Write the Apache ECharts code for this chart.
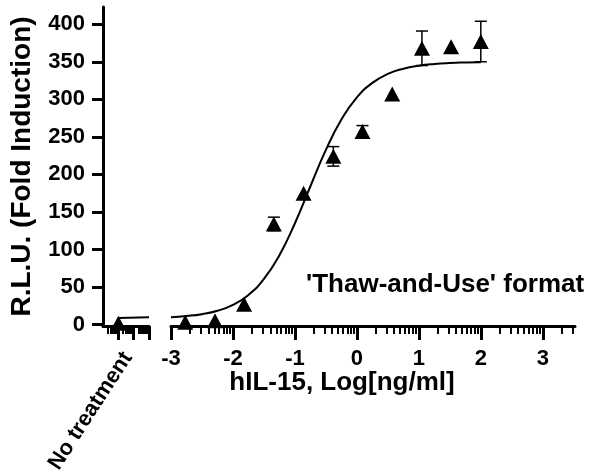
<!DOCTYPE html>
<html><head><meta charset="utf-8">
<script src="https://cdn.jsdelivr.net/npm/echarts@6/dist/echarts.min.js"></script>
<style>html,body{margin:0;padding:0;background:#fff}#c{width:595px;height:472px}</style>
</head><body><div id="c"></div>
<script>
// ---- data ----
const logConc = [2.0, 1.52, 1.05, 0.57, 0.09, -0.38, -0.86, -1.34, -1.82, -2.29, -2.77];
const meanRLU = [377, 370, 368, 307, 257, 224, 175, 134, 27, 5, 3];
const sdRLU   = [27, 0, 23, 0, 8, 13, 0, 9, 0, 0, 0];

const noTreatX = [1];
const noTreatMean = [1.5];
const noTreatSd = [0];
const noTreatLabel = ['No treatment'];

// fitted curve
const curveX = [-3, -2.75, -2.5, -2.25, -2, -1.75, -1.5, -1.25, -1, -0.75, -0.5, -0.25, 0, 0.25, 0.5, 0.75, 1, 1.25, 1.5, 1.75, 2];
const curveY = [9.8, 11.3, 13.8, 18.3, 26.2, 39.4, 60.7, 92.4, 134.9, 184.2, 232.6, 273.1, 302.6, 321.9, 333.8, 340.8, 344.8, 347.1, 348.4, 349.1, 349.5];
const leftCurveX = [1, 3];
const leftCurveY = [8.5, 9.5];

// axis ticks
const yTicks = [0, 50, 100, 150, 200, 250, 300, 350, 400];
const xMajorTicks = [-3, -2, -1, 0, 1, 2, 3];
const leftMajorTicks = [1, 2, 3];
const minorOffsets = [0.301, 0.477, 0.602, 0.699, 0.778, 0.845, 0.903, 0.954];

// ---- build ----
const FONT = '"Liberation Sans", Arial, sans-serif';
const rightMinor = [];
xMajorTicks.forEach(d => minorOffsets.forEach(o => { if (d + o <= 3.52) rightMinor.push(+(d + o).toFixed(3)); }));
const leftMinor = [];
[0, 1, 2].forEach(d => minorOffsets.forEach(o => leftMinor.push(+(d + o).toFixed(3))));

const mainPts = logConc.map((x, i) => [x, meanRLU[i]]);
const mainErr = logConc.map((x, i) => [x, meanRLU[i] - sdRLU[i], meanRLU[i] + sdRLU[i]]);
const ntPts = noTreatX.map((x, i) => [x, noTreatMean[i]]);
const ntErr = noTreatX.map((x, i) => [x, noTreatMean[i] - noTreatSd[i], noTreatMean[i] + noTreatSd[i]]);
const curveData = curveX.map((x, i) => [x, curveY[i]]);
const leftCurveData = leftCurveX.map((x, i) => [x, leftCurveY[i]]);

function errRender(params, api) {
  const x = api.value(0), lo = api.value(1), hi = api.value(2);
  if (hi - lo <= 0) return null;
  const a = api.coord([x, hi]), b = api.coord([x, lo]);
  const w = 6;
  const st = { stroke: '#000', lineWidth: 1.5 };
  return { type: 'group', children: [
    { type: 'line', shape: { x1: a[0], y1: a[1], x2: b[0], y2: b[1] }, style: st },
    { type: 'line', shape: { x1: a[0] - w, y1: a[1], x2: a[0] + w, y2: a[1] }, style: st },
    { type: 'line', shape: { x1: b[0] - w, y1: b[1], x2: b[0] + w, y2: b[1] }, style: st }
  ]};
}

const axisLineStyle = { show: true, onZero: false, lineStyle: { color: '#000', width: 3 } };
const tickFont = { fontFamily: FONT, fontWeight: 'bold', fontSize: 22, color: '#000' };

const option = {
  animation: false,
  backgroundColor: '#fff',
  textStyle: { fontFamily: FONT },
  title: [
    { text: 'hIL-15, Log[ng/ml]', left: 337, top: 365, textAlign: 'center',
      textStyle: { fontFamily: FONT, fontWeight: 'bold', fontSize: 26, color: '#000' } },
    { text: "'Thaw-and-Use' format", left: 301, top: 267,
      textStyle: { fontFamily: FONT, fontWeight: 'bold', fontSize: 26, color: '#000' } }
  ],
  grid: [
    { left: 103, top: 7, width: 46, height: 319, containLabel: false, outerBoundsMode: 'none' },
    { left: 171, top: 7, width: 404, height: 319, containLabel: false, outerBoundsMode: 'none' }
  ],
  xAxis: [
    { gridIndex: 0, type: 'value', min: 0, max: 3, position: 'bottom',
      axisLine: axisLineStyle, splitLine: { show: false },
      axisTick: { show: true, customValues: leftMajorTicks, length: 14, lineStyle: { color: '#000', width: 3 } },
      axisLabel: Object.assign({ show: true, customValues: noTreatX, formatter: () => noTreatLabel[0], rotate: 57, margin: 22,
        verticalAlign: 'top' }, tickFont) },
    { gridIndex: 0, type: 'value', min: 0, max: 3, position: 'bottom',
      axisLine: { show: false, onZero: false }, splitLine: { show: false },
      axisTick: { show: true, customValues: leftMinor, length: 8, lineStyle: { color: '#000', width: 2 } },
      axisLabel: { show: false } },
    { gridIndex: 1, type: 'value', min: -3, max: 3.52, position: 'bottom',
      axisLine: axisLineStyle, splitLine: { show: false },
      axisTick: { show: true, customValues: xMajorTicks, length: 14, lineStyle: { color: '#000', width: 3 } },
      axisLabel: Object.assign({ show: true, customValues: xMajorTicks, formatter: v => String(v), margin: 22 }, tickFont) },
    { gridIndex: 1, type: 'value', min: -3, max: 3.52, position: 'bottom',
      axisLine: { show: false, onZero: false }, splitLine: { show: false },
      axisTick: { show: true, customValues: rightMinor, length: 8, lineStyle: { color: '#000', width: 2 } },
      axisLabel: { show: false } }
  ],
  yAxis: [
    { gridIndex: 0, type: 'value', min: -2, max: 423, position: 'left',
      axisLine: axisLineStyle, splitLine: { show: false },
      axisTick: { show: true, customValues: yTicks, length: 11, lineStyle: { color: '#000', width: 3 } },
      axisLabel: Object.assign({ show: true, customValues: yTicks, margin: 18 }, tickFont),
      name: 'R.L.U. (Fold Induction)', nameLocation: 'middle', nameGap: 67,
      nameTextStyle: { fontFamily: FONT, fontWeight: 'bold', fontSize: 28, color: '#000' } },
    { gridIndex: 1, type: 'value', min: -2, max: 423, show: false }
  ],
  series: [
    { type: 'line', xAxisIndex: 2, yAxisIndex: 1, data: curveData, smooth: true, showSymbol: false,
      lineStyle: { color: '#000', width: 2 }, z: 2 },
    { type: 'line', xAxisIndex: 0, yAxisIndex: 0, data: leftCurveData, showSymbol: false,
      lineStyle: { color: '#000', width: 2 }, z: 2 },
    { type: 'custom', xAxisIndex: 2, yAxisIndex: 1, data: mainErr, renderItem: errRender,
      encode: { x: 0, y: [1, 2] }, z: 3 },
    { type: 'custom', xAxisIndex: 0, yAxisIndex: 0, data: ntErr, renderItem: errRender,
      encode: { x: 0, y: [1, 2] }, z: 3 },
    { type: 'scatter', xAxisIndex: 2, yAxisIndex: 1, data: mainPts, symbol: 'triangle', symbolSize: [16, 15],
      itemStyle: { color: '#000', opacity: 1 }, z: 4 },
    { type: 'scatter', xAxisIndex: 0, yAxisIndex: 0, data: ntPts, symbol: 'triangle', symbolSize: [16, 15],
      itemStyle: { color: '#000', opacity: 1 }, z: 4 }
  ]
};
echarts.init(document.getElementById('c'), null, { renderer: 'canvas' }).setOption(option);
</script>
</body></html>
